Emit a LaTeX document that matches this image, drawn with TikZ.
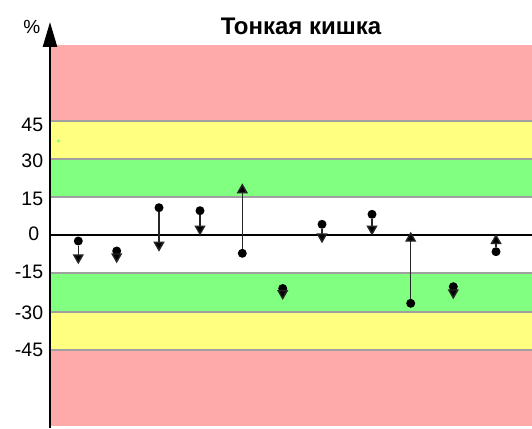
\documentclass[tikz,border=0pt]{standalone}
\usepackage{fontspec}
\setmainfont{Liberation Sans}
\usetikzlibrary{arrows.meta}
\definecolor{bandpink}{HTML}{FFAAAA}
\definecolor{bandyellow}{HTML}{FFFF80}
\definecolor{bandgreen}{HTML}{80FF80}
\definecolor{sepgray}{HTML}{A0A0A0}
\tikzset{
  band/.style={draw=none},
  sepline/.style={draw=sepgray, line width=1.5pt},
  ticklabel/.style={inner sep=0pt, anchor=base east, font=\fontsize{19.5}{19.5}\selectfont},
  startdot/.style={circle, fill=black, inner sep=0pt, minimum size=9pt},
  change/.style={draw=black!85, line width=1.4pt, -{Triangle[length=10pt,width=11pt,fill=black]}},
}
\begin{document}
\begin{tikzpicture}[x=1pt,y=-1pt]
\useasboundingbox (0,0) rectangle (532,428);
% bands
\fill[bandpink] (50,45) rectangle (532,121);
\fill[bandyellow] (50,121) rectangle (532,159);
\fill[bandgreen] (50,159) rectangle (532,197);
\fill[bandgreen] (50,273) rectangle (532,312);
\fill[bandyellow] (50,312) rectangle (532,350);
\fill[bandpink] (50,350) rectangle (532,426);
\foreach \yy in {121,159,197,273,312,350} \draw[sepline] (50,\yy) -- (532,\yy);
% small green dot
\fill[bandgreen] (58.5,141) circle (1.6pt);
% zero line
\coordinate (z0) at (50,235);
\coordinate (z1) at (532,235);
\draw[black, line width=2pt] (z0) -- (z1);
% axis
\coordinate (ax0) at (50,428);
\coordinate (ax1) at (50,22);
\draw[black, line width=2.5pt, -{Triangle[length=25pt,width=14pt]}] (ax0) -- (ax1);
% labels
\node[ticklabel] (lp) at (40.5,33.5) {\fontsize{19}{19}\selectfont\%};
\node[ticklabel] (l45) at (43.3,131.7) {45};
\node[ticklabel] (l30) at (43.3,167) {30};
\node[ticklabel] (l15) at (43.3,205.7) {15};
\node[ticklabel] (l0) at (39.5,240.7) {0};
\node[ticklabel] (lm15) at (43.3,278.5) {-15};
\node[ticklabel] (lm30) at (43.3,319) {-30};
\node[ticklabel] (lm45) at (43.3,356.7) {-45};
% title
\node[inner sep=0pt, anchor=base, font=\bfseries\fontsize{24}{24}\selectfont] (title) at (301,35) {Тонкая кишка};
% markers
\node[startdot] (s1) at (78.3,241) {};   \coordinate (e1) at (78.3,264.3);
\node[startdot] (s2) at (116.7,251) {};  \coordinate (e2) at (116.7,263.3);
\node[startdot] (s3) at (159,207.7) {};  \coordinate (e3) at (159,251.7);
\node[startdot] (s4) at (200,210.7) {};  \coordinate (e4) at (200,235.5);
\node[startdot] (s5) at (242.3,253.3) {};\coordinate (e5) at (242.3,183.3);
\node[startdot] (s6) at (282.7,288.5) {};\coordinate (e6) at (282.7,300);
\node[startdot] (s7) at (322,224.3) {};  \coordinate (e7) at (322,243.3);
\node[startdot] (s8) at (372,214.3) {};  \coordinate (e8) at (372,235.5);
\node[startdot] (s9) at (410.7,303.3) {};\coordinate (e9) at (410.7,231.7);
\node[startdot] (s10) at (453.3,286.7) {};\coordinate (e10) at (453.3,299.3);
\node[startdot] (s11) at (496,251.7) {}; \coordinate (e11) at (496,234);
\foreach \i in {1,...,11} \draw[change] (s\i) -- (e\i);
\end{tikzpicture}
\end{document}
